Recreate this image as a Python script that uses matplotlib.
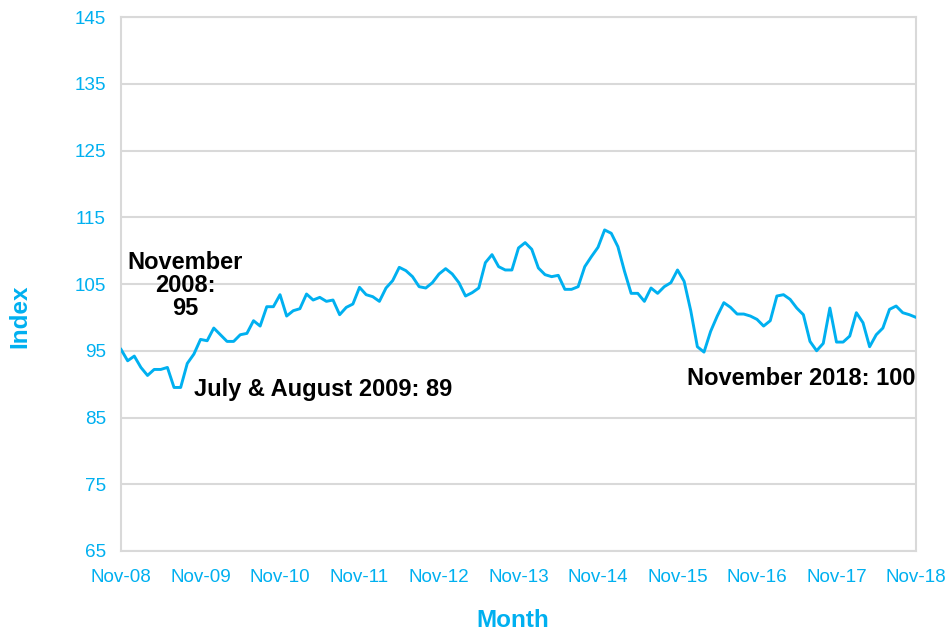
import matplotlib
matplotlib.use("Agg")
import matplotlib.pyplot as plt

plt.rcParams['font.family'] = ['Liberation Sans', 'DejaVu Sans']

BLUE = '#00B0F0'
GRID = '#D9D9D9'

# monthly index, Nov-08 .. Nov-18
index_2008 = [95.2, 93.5]
index_2009 = [94.2, 92.5, 91.3, 92.2, 92.2, 92.5, 89.5, 89.5, 93.1, 94.5, 96.7, 96.5]
index_2010 = [98.4, 97.4, 96.4, 96.4, 97.4, 97.6, 99.5, 98.7, 101.6, 101.6, 103.4, 100.2]
index_2011 = [101.0, 101.3, 103.5, 102.6, 103.0, 102.4, 102.6, 100.4, 101.5, 102.0, 104.5, 103.4]
index_2012 = [103.1, 102.4, 104.4, 105.5, 107.5, 107.0, 106.1, 104.6, 104.4, 105.2, 106.5, 107.3]
index_2013 = [106.5, 105.2, 103.2, 103.7, 104.4, 108.2, 109.4, 107.6, 107.1, 107.1, 110.4, 111.2]
index_2014 = [110.2, 107.4, 106.4, 106.1, 106.3, 104.2, 104.2, 104.6, 107.6, 109.1, 110.5, 113.1]
index_2015 = [112.6, 110.6, 106.9, 103.6, 103.6, 102.4, 104.4, 103.6, 104.6, 105.2, 107.1, 105.4]
index_2016 = [101.0, 95.6, 94.8, 97.9, 100.2, 102.2, 101.5, 100.5, 100.5, 100.2, 99.7, 98.7]
index_2017 = [99.5, 103.2, 103.4, 102.7, 101.4, 100.4, 96.4, 95.0, 96.1, 101.4, 96.3, 96.3]
index_2018 = [97.2, 100.7, 99.2, 95.6, 97.4, 98.4, 101.2, 101.7, 100.7, 100.4, 100.0]

values = (index_2008 + index_2009 + index_2010 + index_2011 + index_2012 + index_2013
          + index_2014 + index_2015 + index_2016 + index_2017 + index_2018)
months = list(range(len(values)))

tick_labels = ['Nov-08', 'Nov-09', 'Nov-10', 'Nov-11', 'Nov-12', 'Nov-13',
               'Nov-14', 'Nov-15', 'Nov-16', 'Nov-17', 'Nov-18']
y_ticks = [65, 75, 85, 95, 105, 115, 125, 135, 145]

fig = plt.figure(figsize=(9.5, 6.3), dpi=100)
ax = fig.add_axes([0.1274, 0.1254, 0.8368, 0.8476])

ax.plot(months, values, color=BLUE, linewidth=2.1, solid_joinstyle='round', zorder=3)

ax.set_xlim(0, len(values) - 1)
ax.set_ylim(65, 145)
ax.set_yticks(y_ticks)
ax.set_xticks(range(0, len(values), 12))
ax.set_xticklabels(tick_labels)
ax.grid(axis='y', color=GRID, linewidth=1.5)
ax.set_axisbelow(True)
for s in ax.spines.values():
    s.set_color(GRID)
    s.set_linewidth(1.5)
ax.tick_params(length=0, colors=BLUE, labelsize=13.6)
ax.tick_params(axis='y', pad=11)
ax.tick_params(axis='x', pad=13)

ax.set_xlabel('Month', color=BLUE, fontsize=17.5, fontweight='bold', va='center')
ax.set_ylabel('Index', color=BLUE, fontsize=17.5, fontweight='bold', va='center')
ax.xaxis.set_label_coords(0.493, -0.13)
ax.yaxis.set_label_coords(-0.127, 0.44)

ax.text(9.7, 110.0, 'November\n2008:\n95', ha='center', va='top', fontsize=17,
        fontweight='bold', linespacing=1.0)
ax.text(11, 89.2, 'July & August 2009: 89', ha='left', va='center', fontsize=17,
        fontweight='bold')
ax.text(120, 90.9, 'November 2018: 100', ha='right', va='center', fontsize=17,
        fontweight='bold')

fig.savefig('out.png', dpi=100)
